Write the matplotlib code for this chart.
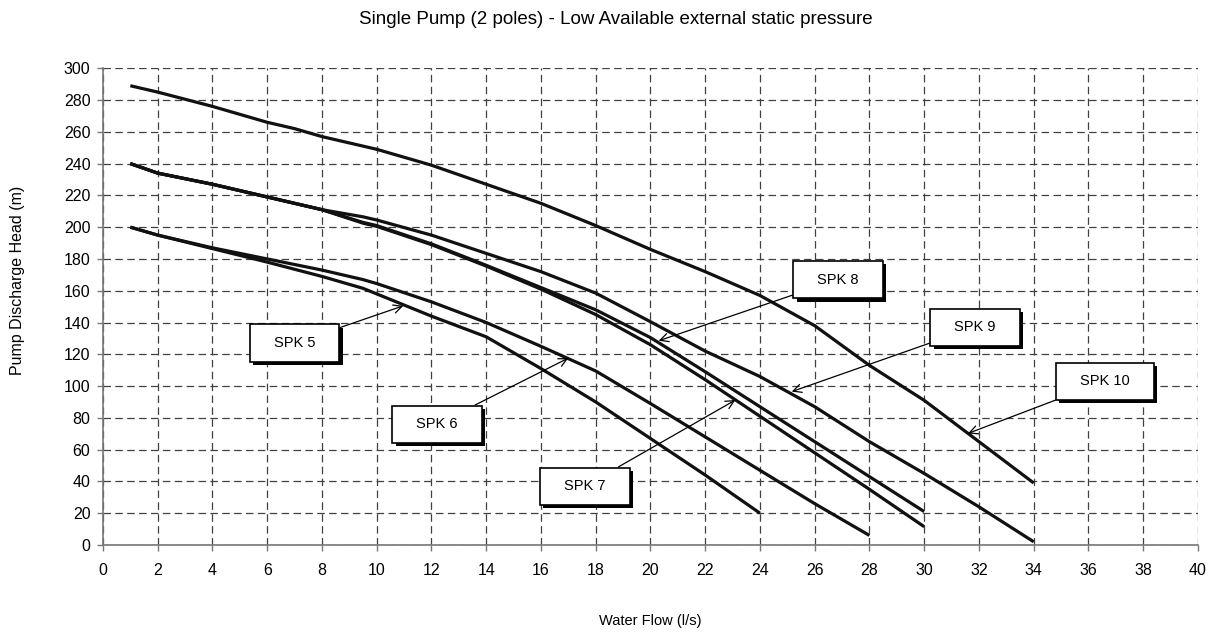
import matplotlib
matplotlib.use("Agg")
import matplotlib.pyplot as plt
from matplotlib import patheffects
from matplotlib.path import Path

# ---- data ----
spk5_x = [1, 2, 4, 6, 8, 9.5, 10, 12, 14, 16, 18, 20, 22, 24]
spk5_y = [200, 195, 186.5, 178, 169, 161.5, 158, 144, 131, 111, 90, 67, 44, 20]

spk6_x = [1, 2, 4, 6, 8, 9.5, 10, 12, 14, 16, 18, 20, 22, 24, 26, 28]
spk6_y = [200, 195, 187, 180, 173, 167, 164.5, 153, 140, 125, 109.5, 89, 68, 47, 26, 6]

spk7_x = [1, 2, 4, 6, 8, 9.5, 10, 12, 14, 16, 18, 20, 22, 24, 26, 28, 30]
spk7_y = [240, 234, 227, 219, 211, 202.5, 200.5, 189, 175.5, 161, 145, 126, 104, 81, 58, 35, 11.5]

spk8_x = [1, 2, 4, 6, 8, 9.5, 10, 12, 14, 16, 18, 20, 22, 24, 26, 28, 30]
spk8_y = [240, 234, 227, 219, 211, 203, 201, 189.5, 176, 162, 148, 130.5, 109, 87, 65, 43, 21]

spk9_x = [1, 2, 4, 6, 8, 9.5, 10, 12, 14, 16, 18, 20, 22, 24, 26, 28, 30, 32, 34]
spk9_y = [240, 234, 227, 219, 211, 206.5, 204.5, 195, 183.5, 172, 158.5, 140.5, 122, 106, 87, 65, 45, 24, 2]

spk10_x = [1, 2, 4, 6, 7, 8, 9.5, 10, 12, 14, 16, 18, 20, 22, 24, 26, 28, 30, 32, 34]
spk10_y = [289, 285, 276, 266, 262, 257, 251, 249, 239, 227, 215, 201, 186, 172, 157, 138, 113, 91, 65, 39]

curves = [(spk5_x, spk5_y), (spk6_x, spk6_y), (spk7_x, spk7_y),
          (spk8_x, spk8_y), (spk9_x, spk9_y), (spk10_x, spk10_y)]

labels = ["SPK 5", "SPK 6", "SPK 7", "SPK 8", "SPK 9", "SPK 10"]
# where the arrow points (on the curve) and where the label box sits
arrow_tips = [(10.97, 150.5), (17.0, 117.6), (23.1, 91.2), (20.3, 128.5), (25.16, 96.5), (31.6, 70.2)]
label_pos = [(7.0, 127), (12.2, 76), (17.6, 37), (26.85, 167), (31.85, 137), (36.6, 103)]

x_ticks = list(range(0, 41, 2))
y_ticks = list(range(0, 301, 20))

NARROW = ["Liberation Sans Narrow", "Liberation Sans", "DejaVu Sans"]
REGULAR = ["Liberation Sans", "DejaVu Sans"]


def label_box(x0, y0, width, height, mutation_size):
    # wider than tall, like the hand-drawn boxes in the original
    padx = 1.65 * mutation_size
    pady = 0.8 * mutation_size
    x0, y0 = x0 - padx, y0 - pady
    x1, y1 = x0 + width + 2 * padx, y0 + height + 2 * pady
    return Path([(x0, y0), (x1, y0), (x1, y1), (x0, y1), (x0, y0)],
                closed=True)


fig = plt.figure(figsize=(12.14, 6.32), dpi=100)
ax = fig.add_axes([0.0848, 0.1377, 0.902, 0.7543])

for xs, ys in curves:
    ax.plot(xs, ys, color="#111111", lw=2.3, solid_capstyle="butt", zorder=3)

ax.set_xlim(0, 40)
ax.set_ylim(0, 300)
ax.set_xticks(x_ticks)
ax.set_yticks(y_ticks)
ax.grid(True, color="#404040", lw=0.9, linestyle=(0, (6, 3.5)))
ax.set_axisbelow(True)

for s in ["top", "right"]:
    ax.spines[s].set_visible(False)
for s in ["left", "bottom"]:
    ax.spines[s].set_color("#777777")
    ax.spines[s].set_linewidth(1.2)

ax.tick_params(direction="out", length=4, width=1, color="#777777",
               labelsize=11.5, pad=5)
for lab in ax.get_xticklabels() + ax.get_yticklabels():
    lab.set_family(REGULAR)
ax.tick_params(axis="x", pad=9)

ax.set_ylabel("Pump Discharge Head (m)", fontsize=11.5, family=REGULAR, labelpad=16)
ax.yaxis.set_label_coords(-0.071, 0.556)
ax.set_xlabel("Water Flow (l/s)", fontsize=10.5, family=NARROW, labelpad=26)
fig.suptitle("Single Pump (2 poles) - Low Available external static pressure",
             fontsize=13.5, family=NARROW, x=0.507, y=0.983, va="top")

for text, tip, pos in zip(labels, arrow_tips, label_pos):
    ann = ax.annotate(text, xy=tip, xytext=pos, ha="center", va="center",
                      fontsize=10.5, family=NARROW, zorder=5,
                      bbox=dict(boxstyle=label_box, fc="white", ec="black", lw=1.2),
                      arrowprops=dict(arrowstyle="->", color="black", lw=0.9,
                                      shrinkA=0, shrinkB=0,
                                      mutation_scale=15))
    ann.get_bbox_patch().set_path_effects([
        patheffects.SimplePatchShadow(offset=(2.5, -2.5), shadow_rgbFace="black", alpha=1),
        patheffects.Normal()])

fig.savefig("out.png", dpi=100)
